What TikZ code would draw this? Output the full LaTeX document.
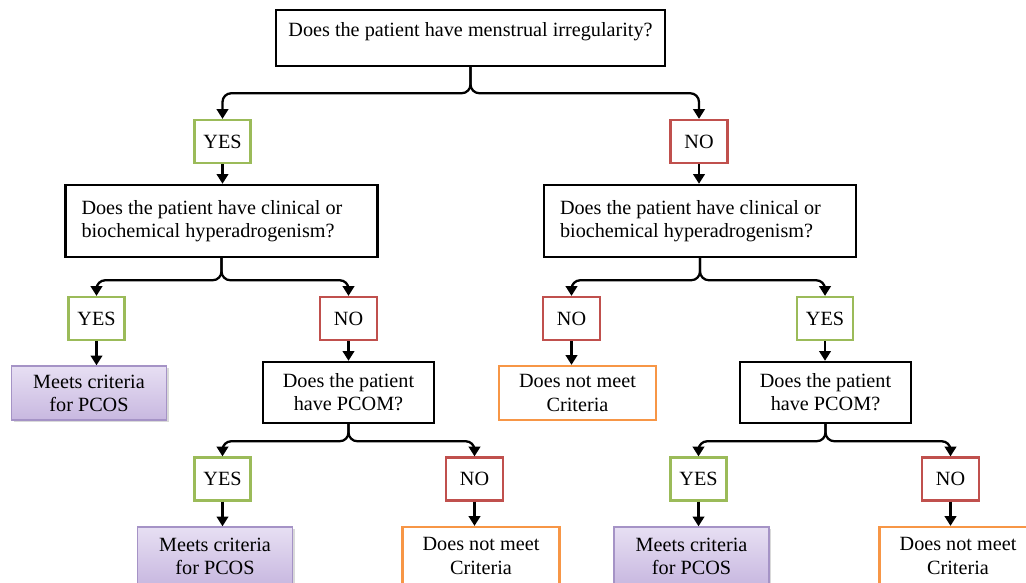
\documentclass[tikz,border=0pt]{standalone}
\usepackage{fontspec}
\setmainfont{Liberation Serif}
\usetikzlibrary{arrows.meta,shadows}

\definecolor{yesgreen}{HTML}{9BBB59}
\definecolor{nored}{HTML}{C0504D}
\definecolor{notorange}{HTML}{F79646}
\definecolor{meetline}{HTML}{A593C6}
\definecolor{meettop}{HTML}{E7DFF3}
\definecolor{meetbot}{HTML}{C8B8E0}

\begin{document}
\begin{tikzpicture}[
  x=0.02cm, y=-0.02cm,
  font=\fontsize{11.5}{13.2}\selectfont,
  >={Triangle[width=6.5pt,length=5.5pt]},
  qbox/.style={rectangle,draw=black,line width=1.4pt,fill=white,align=center,inner sep=0pt},
  hqbox/.style={qbox,align=flush left,text width=5.6cm,minimum width=6.24cm,minimum height=1.44cm},
  pcbox/.style={qbox,minimum width=3.42cm,minimum height=1.22cm},
  yesbox/.style={rectangle,draw=yesgreen,line width=1.3pt,fill=white,minimum width=1.12cm,minimum height=0.86cm},
  nobox/.style={rectangle,draw=nored,line width=1.3pt,fill=white,minimum width=1.14cm,minimum height=0.86cm},
  meets/.style={rectangle,draw=meetline,line width=0.8pt,top color=meettop,bottom color=meetbot,
                drop shadow={opacity=0.3,shadow xshift=1.2pt,shadow yshift=-1.2pt},
                align=center,minimum width=3.1cm,minimum height=1.08cm},
  notmeet/.style={rectangle,draw=notorange,line width=1.3pt,fill=white,align=center,
                  minimum width=3.14cm,minimum height=1.08cm},
  arr/.style={->,line width=1.3pt,black},
  brc/.style={->,line width=1.3pt,black,rounded corners=5pt}
]
\useasboundingbox (0,0) rectangle (1026,582);

%% ================= first question =================
\node[qbox,minimum width=7.78cm,minimum height=1.12cm,text height=0.25cm,text depth=0.32cm]
  (q1) at (470.5,38) {Does the patient have menstrual irregularity?};
\node[yesbox] (yesA) at (222.5,141.5) {YES};
\node[nobox]  (noA)  at (699,141.5)   {NO};

%% ================= hyperandrogenism =================
\node[hqbox] (hqL) at (221.5,221) {Does the patient have clinical or\\biochemical hyperadrogenism?};
\node[hqbox] (hqR) at (700,221)   {Does the patient have clinical or\\biochemical hyperadrogenism?};

\node[yesbox] (yesB) at (96.5,318.5)  {YES};
\node[nobox]  (noB)  at (348.5,318.5) {NO};
\node[nobox]  (noC)  at (571.5,318.5) {NO};
\node[yesbox] (yesC) at (825,318.5)   {YES};

\node[meets]   (mtA) at (89,393)    {Meets criteria\\for PCOS};
\node[pcbox]   (pcL) at (348.5,392.5) {Does the patient\\have PCOM?};
\node[notmeet] (dnA) at (577.5,393) {Does not meet\\Criteria};
\node[pcbox]   (pcR) at (825.5,392.5) {Does the patient\\have PCOM?};

%% ================= PCOM =================
\node[yesbox] (yesD) at (222.5,479) {YES};
\node[nobox]  (noD)  at (474.5,479) {NO};
\node[yesbox] (yesE) at (698.5,479) {YES};
\node[nobox]  (noE)  at (950.5,479) {NO};

\node[meets,minimum height=1.16cm]   (mtB) at (215,556)   {Meets criteria\\for PCOS};
\node[notmeet,minimum height=1.16cm] (dnB) at (481,556)   {Does not meet\\Criteria};
\node[meets,minimum height=1.16cm]   (mtC) at (691.5,556) {Meets criteria\\for PCOS};
\node[notmeet,minimum height=1.16cm] (dnC) at (958,556)   {Does not meet\\Criteria};

%% ================= connectors =================
\foreach \p/\a/\b/\h in {q1/yesA/noA/26, hqL/yesB/noB/22, hqR/noC/yesC/22,
                         pcL/yesD/noD/17, pcR/yesE/noE/17} {
  \draw[brc] (\p.south) -- ++(0,\h) -| (\a.north);
  \draw[brc] (\p.south) -- ++(0,\h) -| (\b.north);
}
\foreach \a/\b in {yesA/hqL, noA/hqR, noB/pcL, yesC/pcR,
                   yesB/mtA, noC/dnA, yesD/mtB, noD/dnB, yesE/mtC, noE/dnC}
  \draw[arr] (\a.south) -- (\a.south |- \b.north);

\end{tikzpicture}
\end{document}
